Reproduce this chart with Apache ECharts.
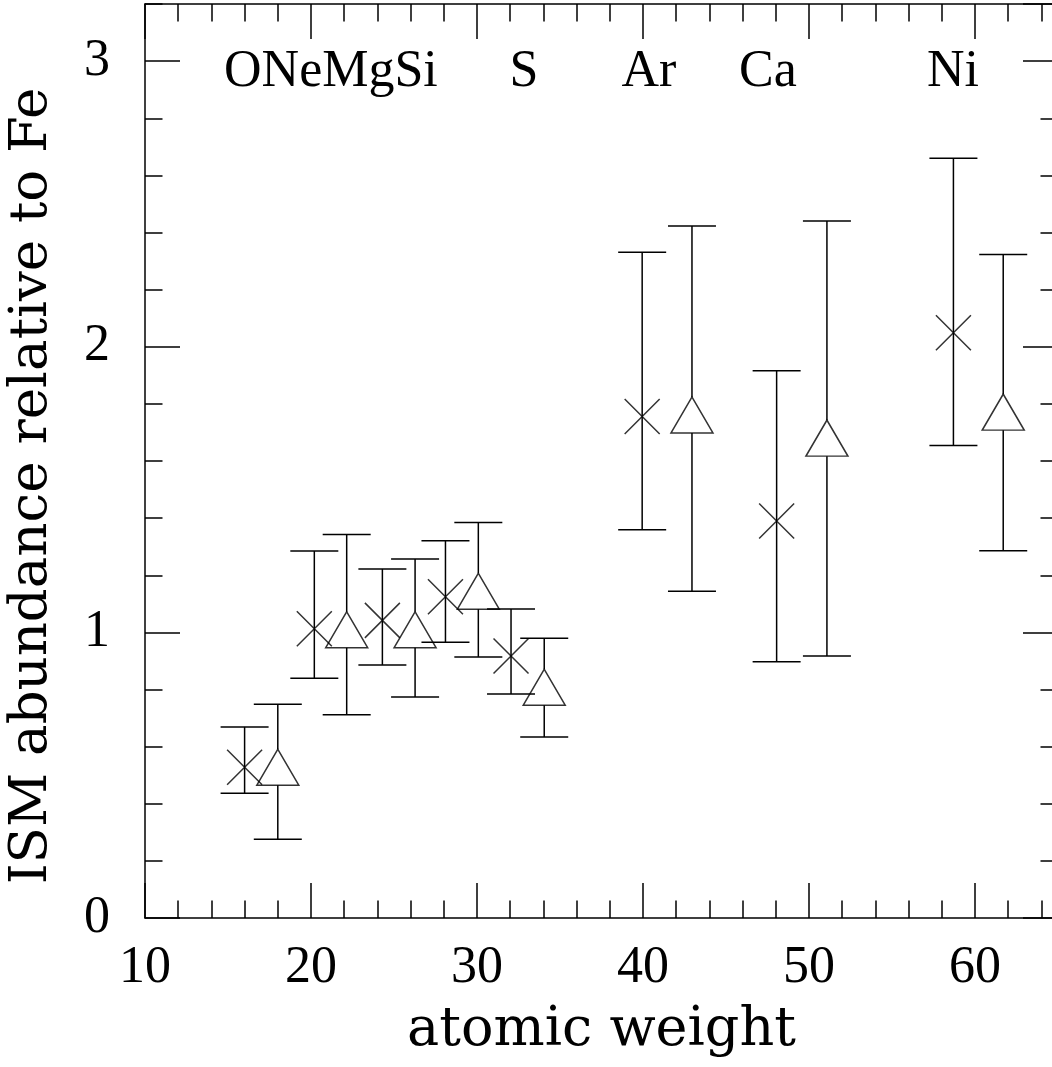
<!DOCTYPE html>
<html>
<head>
<meta charset="utf-8">
<script src="https://cdn.jsdelivr.net/npm/echarts@6/dist/echarts.min.js"></script>
<style>
html,body{margin:0;padding:0;background:#fff;}
#chart{width:1052px;height:1067px;}
</style>
</head>
<body>
<div id="chart"></div>
<script>
// ---- data ----
const elements = ['O', 'Ne', 'Mg', 'Si', 'S', 'Ar', 'Ca', 'Ni'];
// element labels as written on the plot (first four run together), with their centre x in data units
const labelTexts = ['ONeMgSi', 'S', 'Ar', 'Ca', 'Ni'];
const labelX = [21.2, 32.83, 40.36, 47.53, 58.67];
const labelY = 2.96;

const crossX  = [16.0, 20.2, 24.3, 28.1, 32.05, 39.95, 48.05, 58.7];
const crossY  = [0.528, 1.013, 1.042, 1.125, 0.917, 1.756, 1.390, 2.049];
const crossLo = [0.437, 0.839, 0.886, 0.965, 0.784, 1.359, 0.897, 1.654];
const crossHi = [0.669, 1.285, 1.222, 1.321, 1.082, 2.331, 1.916, 2.660];

const triX  = [18.0, 22.15, 26.27, 30.08, 34.05, 42.95, 51.08, 61.7];
const triY  = [0.528, 1.009, 1.009, 1.144, 0.808, 1.761, 1.680, 1.771];
const triLo = [0.276, 0.712, 0.774, 0.914, 0.634, 1.144, 0.917, 1.286];
const triHi = [0.748, 1.343, 1.257, 1.385, 0.979, 2.423, 2.440, 2.323];

const xMin = 10, xMax = 65, xMajor = 10, xMinor = 2;
const yMin = 0, yMax = 3.2, yMajor = 1, yMinor = 0.2;

// ---- styling ----
const LW = 1.5;
const labelFont = 'Liberation Serif';
const titleFont = 'DejaVu Serif';
const majorLen = 35, minorLen = 17.5;

const chart = echarts.init(document.getElementById('chart'), null, {renderer: 'canvas'});

function xAxisDef(pos, interval, len, showLine, showLabel) {
  return {
    type: 'value', position: pos, min: xMin, max: xMax, interval: interval,
    axisLine: {show: showLine, onZero: false, lineStyle: {color: '#000', width: LW}},
    axisTick: {show: true, inside: true, length: len, lineStyle: {color: '#000', width: LW}},
    axisLabel: {show: showLabel, showMaxLabel: false, margin: 24,
      fontFamily: labelFont, fontSize: 52, color: '#000'},
    splitLine: {show: false}
  };
}
function yAxisDef(pos, interval, len, showLine, showLabel) {
  return {
    type: 'value', position: pos, min: yMin, max: yMax, interval: interval,
    axisLine: {show: showLine, onZero: false, lineStyle: {color: '#000', width: LW}},
    axisTick: {show: true, inside: true, length: len, lineStyle: {color: '#000', width: LW}},
    axisLabel: {show: showLabel, showMaxLabel: false, margin: 35,
      fontFamily: labelFont, fontSize: 52, color: '#000'},
    splitLine: {show: false}
  };
}

const xAxes = [
  xAxisDef('bottom', xMajor, majorLen, true, true),
  xAxisDef('bottom', xMinor, minorLen, false, false),
  xAxisDef('top', xMajor, majorLen, true, false),
  xAxisDef('top', xMinor, minorLen, false, false)
];
Object.assign(xAxes[0], {
  name: 'atomic weight', nameLocation: 'middle', nameGap: 86,
  nameTextStyle: {fontFamily: titleFont, fontSize: 54, color: '#000'}
});
const yAxes = [
  yAxisDef('left', yMajor, majorLen, true, true),
  yAxisDef('left', yMinor, minorLen, false, false),
  yAxisDef('right', yMajor, majorLen, true, false),
  yAxisDef('right', yMinor, minorLen, false, false)
];
Object.assign(yAxes[0], {
  name: 'ISM abundance relative to Fe', nameLocation: 'middle', nameGap: 86,
  nameTextStyle: {fontFamily: titleFont, fontSize: 53, color: '#000', padding: [0, 50, 0, 0]}
});

function errData(xs, lo, hi) { return xs.map((x, i) => [x, lo[i], hi[i]]); }

function errRender(centres, gapTop, gapBottom) {
  return function (params, api) {
    const x = api.value(0), lo = api.value(1), hi = api.value(2);
    const pc = api.coord([x, centres[params.dataIndex]]);
    const ph = api.coord([x, hi]);
    const pl = api.coord([x, lo]);
    const cap = 24;
    const st = {stroke: '#000', lineWidth: LW, fill: null};
    return {type: 'group', children: [
      {type: 'line', shape: {x1: ph[0], y1: ph[1], x2: pc[0], y2: pc[1] - gapTop}, style: st},
      {type: 'line', shape: {x1: pc[0], y1: pc[1] + gapBottom, x2: pl[0], y2: pl[1]}, style: st},
      {type: 'line', shape: {x1: ph[0] - cap, y1: ph[1], x2: ph[0] + cap, y2: ph[1]}, style: st},
      {type: 'line', shape: {x1: pl[0] - cap, y1: pl[1], x2: pl[0] + cap, y2: pl[1]}, style: st}
    ]};
  };
}

const option = {
  backgroundColor: '#fff',
  animation: false,
  grid: {left: 145, top: 4, width: 913, height: 914, containLabel: false, outerBoundsMode: 'none'},
  xAxis: xAxes,
  yAxis: yAxes,
  series: [
    {
      name: 'crossErr', type: 'custom', silent: true,
      renderItem: errRender(crossY, 0, 0),
      encode: {x: 0, y: [1, 2]},
      data: errData(crossX, crossLo, crossHi)
    },
    {
      name: 'triErr', type: 'custom', silent: true,
      renderItem: errRender(triY, 18, 18),
      encode: {x: 0, y: [1, 2]},
      data: errData(triX, triLo, triHi)
    },
    {
      name: 'cross', type: 'scatter', silent: true,
      symbol: 'path://M0,0L10,10M10,0L0,10', symbolSize: 35,
      itemStyle: {color: 'transparent', borderColor: '#000', borderWidth: LW},
      data: crossX.map((x, i) => [x, crossY[i]])
    },
    {
      name: 'tri', type: 'scatter', silent: true,
      symbol: 'triangle', symbolSize: [42, 36],
      itemStyle: {color: 'transparent', borderColor: '#000', borderWidth: LW},
      data: triX.map((x, i) => [x, triY[i]])
    },
    {
      name: 'labels', type: 'scatter', silent: true,
      symbolSize: 0,
      itemStyle: {opacity: 1},
      label: {show: true, position: 'inside', formatter: p => p.name,
        fontFamily: labelFont, fontSize: 52, color: '#000', textBorderWidth: 0, opacity: 1},
      data: labelTexts.map((t, i) => ({name: t, value: [labelX[i], labelY]}))
    }
  ]
};
chart.setOption(option);
</script>
</body>
</html>
